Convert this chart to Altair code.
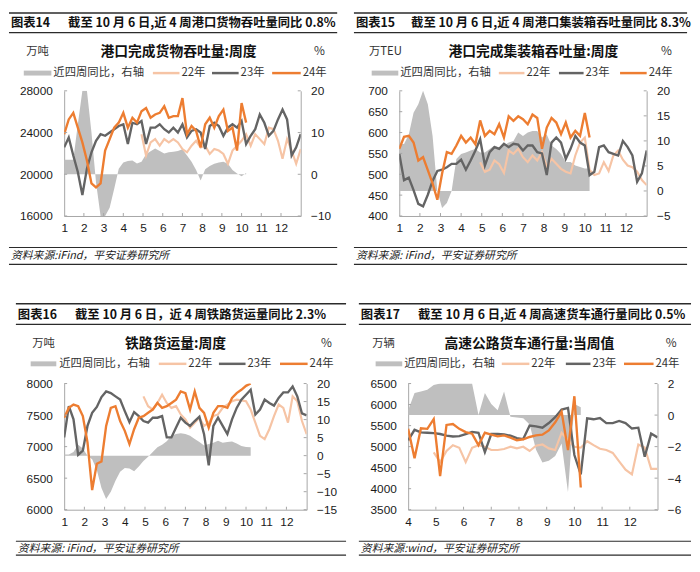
import altair as alt
import pandas as pd

FONT = "Noto Sans CJK SC"
NUM_FONT = "Liberation Sans"
AXIS_GRAY = "#A6A6A6"
AREA_GRAY = "#BFBFBF"
C22, C23, C24 = "#F6C4A5", "#646464", "#ED7D31"
INK = "#111111"
RULE = "#2b2b2b"

SERIES = ["22年", "23年", "24年"]
AREA_NAME = "近四周同比，右轴"
WEEK = 12 / 52

# ---------------- 图表14 港口货物吞吐量 ----------------
P1_HEAD = ["图表14", "截至 10 月 6 日,近 4 周港口货物吞吐量同比 0.8%"]
P1_TITLE = "港口完成货物吞吐量:周度"
P1_UNIT = "万吨"
P1_SOURCE = "资料来源:iFind，平安证券研究所"
P1_MONTHS = [1, 2, 3, 4, 5, 6, 7, 8, 9, 10, 11, 12]
P1_LEFT_TICKS = [16000, 20000, 24000, 28000]
P1_RIGHT_TICKS = [-10, 0, 10, 20]
P1_YOY = [3.5, 3.5, 3.5, 12, 20, 20, 10, -2, -10, -10, -8, -3.5, 1.3, 2.8, 3.2, 3.3, 2.6, 3, 4.8, 5.5,
          6.2, 5.6, 5, 5.3, 5.4, 5.6, 6, 4.5, 3, 1, -1.5, 1.2, 2, 2.5, 2.8, 3, 2.5, 1, 0.2, -0.5, 0.3]
P1_22_START = 17
P1_22 = [23840, 21800, 23050, 23370, 22740, 23370, 23050, 23370, 23050, 22420, 22110, 22740, 23210,
         22580, 22740, 21950, 22420, 22270, 21950, 21010, 22270, 22740, 23210, 23840, 22740, 23840,
         23370, 22900, 24470, 24320, 23210, 21480, 23370, 22270, 21010, 22420]
P1_23 = [22580, 23530, 21800, 20220, 18020, 20540, 22110, 23210, 23840, 23690, 24000, 24320, 24630,
         24790, 22900, 24940, 24790, 25100, 22900, 24470, 24470, 24790, 24320, 24000, 24470, 24000,
         24790, 23530, 24160, 24320, 24000, 22420, 24630, 24940, 24630, 23690, 24470, 24790, 24470,
         25100, 22900, 23690, 24320, 25730, 24940, 23690, 24160, 25260, 26200, 25260, 21800, 22580, 23840]
P1_24 = [23840, 25260, 25890, 24470, 23060, 21320, 19120, 18740, 19120, 22270, 23370, 24470, 24950,
         25890, 24470, 25420, 24950, 26050, 26360, 25420, 25730, 25890, 26520, 25420, 25580, 25580,
         27300, 23840, 24630, 24160, 22580, 24790, 25420, 24470, 25580, 26200, 24160, 24470, 22270,
         26830, 24950]

# ---------------- 图表15 港口集装箱吞吐量 ----------------
P2_HEAD = ["图表15", "截至 10 月 6 日,近 4 周港口集装箱吞吐量同比 8.3%"]
P2_TITLE = "港口完成集装箱吞吐量:周度"
P2_UNIT = "万TEU"
P2_SOURCE = "资料来源: iFind，平安证券研究所"
P2_MONTHS = [1, 2, 3, 4, 5, 6, 7, 8, 9, 10, 11, 12]
P2_LEFT_TICKS = [400, 450, 500, 550, 600, 650, 700]
P2_RIGHT_TICKS = [-5, 0, 5, 10, 15, 20]
P2_YOY = [9.4, 9.4, 11.3, 15.6, 17.3, 20, 17.3, 11, 0, -3.4, -2.4, 0, 6.4, 7.4, 7.7, 8.1, 8.4, 7.7,
          7.7, 8.4, 9.1, 8.7, 9.1, 9.7, 10, 11.7, 11, 11.7, 12, 12, 10.7, 11.3, 9.1, 8.4, 7.4, 5.8,
          5.8, 5.1, 4.8, 4.5, 4.5]
P2_22_START = 17
P2_22 = [529, 506, 511, 533, 524, 503, 557, 549, 561, 541, 529, 545, 533, 553, 517, 537, 525, 513,
         506, 502, 545, 576, 588, 510, 498, 502, 529, 508, 545, 557, 535, 521, 517, 506, 486, 474]
P2_23 = [549, 486, 492, 462, 429, 423, 451, 484, 508, 511, 517, 525, 525, 535, 511, 533, 557, 584,
         521, 553, 565, 561, 573, 565, 573, 571, 557, 569, 569, 553, 550, 498, 576, 588, 576, 537,
         561, 592, 576, 569, 498, 506, 565, 569, 553, 549, 545, 580, 565, 545, 482, 502, 557]
P2_24 = [561, 590, 592, 576, 533, 541, 510, 478, 439, 502, 553, 549, 569, 592, 576, 588, 572, 629,
         592, 604, 596, 620, 588, 639, 628, 639, 632, 620, 643, 635, 561, 612, 635, 624, 596, 624,
         588, 604, 592, 647, 588]

# ---------------- 图表16 铁路货运量 ----------------
P3_HEAD = ["图表16", "截至 10 月 6 日，近 4 周铁路货运量同比 2.3%"]
P3_TITLE = "铁路货运量:周度"
P3_UNIT = "万吨"
P3_SOURCE = "资料来源: iFind，平安证券研究所"
P3_MONTHS = [1, 2, 3, 4, 5, 6, 7, 8, 9, 10, 11, 12]
P3_LEFT_TICKS = [6000, 6500, 7000, 7500, 8000]
P3_RIGHT_TICKS = [-15, -10, -5, 0, 5, 10, 15, 20]
P3_YOY = [0.3, 0.3, 1, 3, 2, 0, -1, -4, -9, -12, -10, -7, -4.5, -3.4, -3.6, -4.3, -3, -1.5, -0.3, 1,
          2.3, 3, 4, 5.5, 6, 6.2, 6, 5.5, 4.6, 3.8, 2.8, 3.2, 3.6, 4.1, 3.6, 3.8, 3.9, 3.4, 2.7, 2.4, 2.3]
P3_22_START = 17
P3_22 = [7797, 7641, 7588, 7692, 7823, 7692, 7614, 7641, 7510, 7432, 7302, 7380, 7458, 7328, 7380,
         7484, 7510, 7614, 7667, 7719, 7745, 7734, 7719, 7588, 7380, 7172, 7120, 7276, 7484, 7667,
         7614, 7380, 7797, 7719, 7406, 7198]
P3_23 = [7146, 7641, 7432, 6869, 6937, 7328, 7536, 7630, 7786, 7875, 7849, 7797, 7745, 7562, 7390,
         7547, 7484, 7406, 7380, 7458, 7458, 7484, 7146, 7146, 7302, 7458, 7380, 7328, 7406, 7474,
         7198, 6703, 7328, 7458, 7328, 7198, 7432, 7614, 7745, 7823, 7901, 7510, 7588, 7745, 7692,
         7651, 7771, 7859, 7859, 7953, 7797, 7526, 7495]
P3_24 = [7458, 7614, 7667, 7641, 7484, 7067, 6312, 6729, 6765, 7328, 7614, 7641, 7406, 7250, 7041,
         7276, 7458, 7484, 7536, 7588, 7692, 7614, 7641, 7692, 7745, 7875, 7849, 7588, 7875, 7614,
         7536, 7302, 7536, 7641, 7641, 7614, 7771, 7849, 7901, 7964, 8000]

# ---------------- 图表17 高速货车通行量 ----------------
P4_HEAD = ["图表17", "截至 10 月 6 日,近 4 周高速货车通行量同比 0.5%"]
P4_TITLE = "高速公路货车通行量:当周值"
P4_UNIT = "万辆"
P4_SOURCE = "资料来源:wind，平安证券研究所"
P4_MONTHS = [4, 5, 6, 7, 8, 9, 10, 11, 12]
P4_LEFT_TICKS = [3500, 4000, 4500, 5000, 5500, 6000, 6500]
P4_RIGHT_TICKS = [-6, -4, -2, 0, 2]
P4_YOY = [0.3, 1.4, 1.5, 1.6, 1.9, 2, 2, 2, 2, 2, 2, 0, 1.4, 0.7, 0.3, 1.5, -0.1, -0.15, -0.2, -0.6,
          -2.2, -3.0, -2.9, -2.6, -1.8, -4.9, 0.7, 0.5]
P4_22_START = 4
P4_22 = [4865, 4632, 4896, 5035, 4973, 4632, 4973, 5035, 4997, 4919, 4919, 4942, 4997, 4958, 4997,
         4896, 5020, 5051, 4958, 4919, 5330, 5152, 4997, 4974, 5128, 5035, 4950, 4920, 4850, 4650,
         4450, 4340, 5050, 4980, 4470, 4470]
P4_23 = [5150, 5400, 5340, 5330, 5320, 5300, 5260, 5240, 5250, 5300, 5350, 5330, 4870, 5300, 5300,
         5290, 5260, 5200, 5180, 5500, 5480, 5450, 5560, 5700, 5880, 5920, 4800, 4340, 5670, 5650,
         5680, 5560, 5560, 5610, 5560, 5430, 5450, 4760, 5310, 5220]
P4_24 = [5423, 4725, 5438, 5423, 5655, 4299, 5516, 5539, 5423, 5345, 5307, 5035, 5330, 5283, 5245,
         5268, 5214, 5152, 5175, 5229, 5268, 5283, 5384, 5578, 5826, 4919, 6198, 4028]

ONE = pd.DataFrame({"k": [0]})


def label(s, x, y, size, weight="normal", align="left", style="normal", color=INK):
    return alt.Chart(ONE).mark_text(
        align=align, baseline="middle", font=FONT, fontSize=size,
        fontWeight=weight, fontStyle=style, color=color,
    ).encode(x=alt.value(x), y=alt.value(y), text=alt.value(s))


def hline(x1, x2, y, width, color=RULE):
    return alt.Chart(ONE).mark_rule(color=color, strokeWidth=width).encode(
        x=alt.value(x1), x2=alt.value(x2), y=alt.value(y))


def swatch(x1, x2, y, thick, color):
    return alt.Chart(ONE).mark_rect(color=color).encode(
        x=alt.value(x1), x2=alt.value(x2), y=alt.value(y - thick / 2), y2=alt.value(y + thick / 2))


def panel(p, L):
    w, h, x0 = L["w"], L["h"], p["x0"]
    xs = alt.Scale(domain=[x0, 13], nice=False, zero=False)
    xax = alt.Axis(values=p["months"], format="d", title=None, labelPadding=7,
                   labelFlush=False, labelOverlap=False)
    ls = alt.Scale(domain=[min(p["lticks"]), max(p["lticks"])], nice=False, zero=False)
    lax = alt.Axis(orient="left", values=p["lticks"], format="d", title=None, labelPadding=12,
                   labelFlush=False, labelOverlap=False)
    rs = alt.Scale(domain=[min(p["rticks"]), max(p["rticks"])], nice=False, zero=True)
    rax = alt.Axis(orient="right", values=p["rticks"], format="d", title=None, labelPadding=10,
                   labelFlush=False, labelOverlap=False)

    yoy = pd.DataFrame({"x": [x0 + k * WEEK for k in range(len(p["yoy"]))], "v": p["yoy"]})
    area = alt.Chart(yoy).mark_area(color=AREA_GRAY, clip=True).encode(
        x=alt.X("x:Q", scale=xs, axis=xax), y=alt.Y("v:Q", scale=rs, axis=rax))
    rt = alt.Chart(pd.DataFrame({"v": p["rticks"]})).mark_rule(color=AXIS_GRAY).encode(
        y=alt.Y("v:Q", scale=rs, axis=rax), x=alt.value(w - 3), x2=alt.value(w))
    right = alt.layer(area, rt)

    layers = []
    for vals, start, color, sw in ((p["y22"], p["s22"], C22, 2.2),
                                   (p["y23"], 0, C23, 2.4),
                                   (p["y24"], 0, C24, 2.4)):
        df = pd.DataFrame({"x": [x0 + (start + k) * WEEK for k in range(len(vals))], "v": vals})
        layers.append(alt.Chart(df).mark_line(color=color, strokeWidth=sw, clip=True).encode(
            x=alt.X("x:Q", scale=xs, axis=xax), y=alt.Y("v:Q", scale=ls, axis=lax)))
    lt = alt.Chart(pd.DataFrame({"v": p["lticks"]})).mark_rule(color=AXIS_GRAY).encode(
        y=alt.Y("v:Q", scale=ls, axis=lax), x=alt.value(0), x2=alt.value(3))
    xt = alt.Chart(pd.DataFrame({"x": [m for m in p["months"] if m > x0]})).mark_rule(
        color=AXIS_GRAY).encode(x=alt.X("x:Q", scale=xs, axis=xax),
                                y=alt.value(h - 3), y2=alt.value(h))
    left = alt.layer(*layers, lt, xt)

    a, b = L["frame"]
    t1, th, t2 = L["head"]
    f1, ft, f2 = L["foot"]
    ly = L["leg_y"]
    (gx1, gx2, gtx), (ax1, ax2, atx), (bx1, bx2, btx), (cx1, cx2, ctx) = L["leg"]
    decos = [
        hline(a, b, t1, 1.6), hline(a, b, t2, 1.2),
        label(p["head"][0], a + 2, th, 12.5, "bold"),
        label(p["head"][1], L["head_x"], th, 12.5, "bold"),
        label(p["unit"], L["unit_x"], L["row"], 11.5, align="center", color="#333333"),
        label(p["title"], L["title_x"], L["row"], 14, "bold", align="center"),
        label("%", L["pct_x"], L["row"] - 1, 12, align="center", color="#333333"),
        swatch(gx1, gx2, ly, 5, AREA_GRAY),
        label(AREA_NAME, gtx, ly, 11.5, color="#333333"),
        hline(ax1, ax2, ly, 2.5, C22), label(SERIES[0], atx, ly, 11.5, color="#333333"),
        hline(bx1, bx2, ly, 2.5, C23), label(SERIES[1], btx, ly, 11.5, color="#333333"),
        hline(cx1, cx2, ly, 2.5, C24), label(SERIES[2], ctx, ly, 11.5, color="#333333"),
        hline(a, b, f1, 1.2),
        label(p["source"], a + 2, ft, 11, style="italic", color="#222222"),
        hline(a, b, f2, 1.2),
    ]
    return alt.layer(right, left, *decos).resolve_scale(y="independent").properties(width=w, height=h)


P1 = dict(head=P1_HEAD, title=P1_TITLE, unit=P1_UNIT, source=P1_SOURCE, x0=1, months=P1_MONTHS,
          lticks=P1_LEFT_TICKS, rticks=P1_RIGHT_TICKS, yoy=P1_YOY, y22=P1_22, s22=P1_22_START,
          y23=P1_23, y24=P1_24)
P2 = dict(head=P2_HEAD, title=P2_TITLE, unit=P2_UNIT, source=P2_SOURCE, x0=1, months=P2_MONTHS,
          lticks=P2_LEFT_TICKS, rticks=P2_RIGHT_TICKS, yoy=P2_YOY, y22=P2_22, s22=P2_22_START,
          y23=P2_23, y24=P2_24)
P3 = dict(head=P3_HEAD, title=P3_TITLE, unit=P3_UNIT, source=P3_SOURCE, x0=1, months=P3_MONTHS,
          lticks=P3_LEFT_TICKS, rticks=P3_RIGHT_TICKS, yoy=P3_YOY, y22=P3_22, s22=P3_22_START,
          y23=P3_23, y24=P3_24)
P4 = dict(head=P4_HEAD, title=P4_TITLE, unit=P4_UNIT, source=P4_SOURCE, x0=4, months=P4_MONTHS,
          lticks=P4_LEFT_TICKS, rticks=P4_RIGHT_TICKS, yoy=P4_YOY, y22=P4_22, s22=P4_22_START,
          y23=P4_23, y24=P4_24)

L1 = dict(w=240, h=127, frame=(-56, 277), head=(-79, -69, -59), head_x=4, unit_x=-27, title_x=116,
          pct_x=259, row=-39, leg_y=-18,
          leg=((-41, -13, -11), (90, 117, 119), (150, 177, 179), (211, 240, 242)),
          foot=(159, 168, 176))
L2 = dict(w=251, h=127, frame=(-46, 292), head=(-79, -69, -59), head_x=12, unit_x=-14, title_x=136,
          pct_x=271, row=-39, leg_y=-18,
          leg=((-28, -1, 1), (101, 127, 129), (162, 187, 189), (224, 251, 253)),
          foot=(159, 168, 176))
L3 = dict(w=246, h=128, frame=(-49, 286), head=(-81, -69, -60), head_x=11, unit_x=-21, title_x=113,
          pct_x=266, row=-40, leg_y=-20,
          leg=((-34, -8, -5), (96, 124, 126), (157, 184, 186), (219, 247, 249)),
          foot=(160, 168, 174))
L4 = dict(w=253, h=128, frame=(-50, 287), head=(-81, -69, -60), head_x=10, unit_x=-25, title_x=123,
          pct_x=267, row=-40, leg_y=-20,
          leg=((-33, -6, -4), (95, 123, 125), (160, 185, 187), (219, 249, 251)),
          foot=(160, 168, 174))

row1 = alt.hconcat(panel(P1, L1), panel(P2, L2), spacing=15)
row2 = alt.hconcat(panel(P3, L3), panel(P4, L4), spacing=11)

chart = alt.vconcat(row1, row2, spacing=38).properties(padding=0).configure_axis(
    labelFont=NUM_FONT, labelFontSize=12, labelColor="#1a1a1a", domainColor=AXIS_GRAY,
    domainWidth=1, ticks=False, tickSize=0, grid=False,
).configure_view(stroke=None)

chart.save("out.html", embed_options={"renderer": "svg", "actions": False})
